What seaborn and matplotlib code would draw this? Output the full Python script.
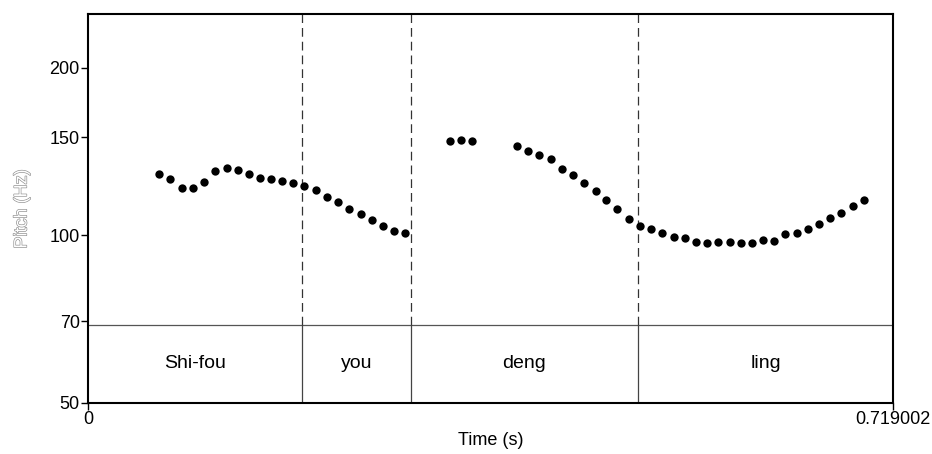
import matplotlib
matplotlib.use("Agg")
import matplotlib.pyplot as plt
import matplotlib.ticker as mticker
import matplotlib.patheffects as pe
import pandas as pd
import seaborn as sns

# Pitch track (time in s, F0 in Hz)
times = [0.0634, 0.0735, 0.0837, 0.0938, 0.1036, 0.1137, 0.1239, 0.1340, 0.1441,
         0.1539, 0.1635, 0.1731, 0.1834, 0.1933, 0.2034, 0.2138, 0.2234, 0.2335,
         0.2437, 0.2538, 0.2633, 0.2734, 0.2835,
         0.3234, 0.3330, 0.3431,
         0.3833, 0.3931, 0.4032, 0.4137, 0.4235, 0.4336, 0.4432, 0.4533, 0.4631,
         0.4729, 0.4829, 0.4928, 0.5028, 0.5129, 0.5230, 0.5331, 0.5432, 0.5528,
         0.5629, 0.5730, 0.5832, 0.5930, 0.6028, 0.6127, 0.6228, 0.6329, 0.6427,
         0.6529, 0.6623, 0.6728, 0.6829, 0.6927]
f0_hz = [129.0, 126.4, 121.8, 121.8, 124.6, 130.4, 132.3, 131.2, 129.0,
         126.7, 126.0, 125.3, 124.3, 122.6, 120.6, 117.1, 114.6, 111.5,
         109.0, 106.5, 103.8, 102.0, 100.8,
         147.9, 148.2, 148.0,
         144.6, 141.6, 139.3, 137.0, 131.5, 128.3, 124.3, 119.9, 115.5,
         111.5, 106.8, 103.9, 102.6, 100.8, 99.3, 98.8, 97.4, 96.9,
         97.3, 97.4, 96.7, 96.7, 97.9, 97.8, 100.5, 100.9, 102.5,
         104.8, 107.6, 109.6, 112.9, 115.5]

# Word tier
words = ["Shi-fou", "you", "deng", "ling"]
boundaries = [0.1909, 0.2883, 0.4914]
t_start, t_end = 0.0, 0.719002

f_min, f_max = 50, 250
tier_top = 69.1
y_ticks = [50, 70, 100, 150, 200]

sns.set_theme(style="ticks")
plt.rcParams["font.family"] = ["Liberation Sans", "DejaVu Sans"]

fig = plt.figure(figsize=(9.32, 4.54), dpi=100)
ax = fig.add_axes([88 / 932, 1 - 402.7 / 454, 805 / 932, 388.7 / 454])

df = pd.DataFrame({"time": times, "f0": f0_hz})
sns.scatterplot(data=df, x="time", y="f0", ax=ax, color="black",
                s=36, linewidth=0, legend=False, zorder=3)

ax.set_yscale("log")
ax.set_ylim(f_min, f_max)
ax.set_xlim(t_start, t_end)

# Tier separator and interval boundaries
ax.axhline(tier_top, color="#555555", lw=0.9, zorder=1)
ax.vlines(boundaries, f_min, tier_top, color="#444444", lw=0.9, zorder=1)
ax.vlines(boundaries, tier_top, f_max, color="#333333", lw=0.9,
          linestyles=(0, (7, 4)), zorder=1)

edges = [t_start] + boundaries + [t_end]
label_y = (f_min * tier_top) ** 0.5
for w, a, b in zip(words, edges[:-1], edges[1:]):
    ax.text((a + b) / 2, label_y, w, ha="center", va="center", fontsize=14,
            color="black")

ax.yaxis.set_major_locator(mticker.FixedLocator(y_ticks))
ax.yaxis.set_major_formatter(mticker.FixedFormatter([str(v) for v in y_ticks]))
ax.yaxis.set_minor_locator(mticker.NullLocator())
ax.set_xticks([t_start, t_end])
ax.set_xticklabels(["0", "0.719002"])

ax.tick_params(axis="both", which="major", direction="out", length=5,
               width=1, color="black", labelsize=13, labelcolor="black", pad=1)

for sp in ax.spines.values():
    sp.set_visible(True)
    sp.set_linewidth(1.5)
    sp.set_color("black")

ax.set_xlabel("Time (s)", fontsize=13, color="black", labelpad=3)
ax.set_ylabel("")

# Outlined vertical axis title
ylab = fig.text(22 / 932, 1 - 209 / 454, "Pitch (Hz)", rotation=90,
                ha="center", va="center", fontsize=13, color="white")
ylab.set_path_effects([pe.Stroke(linewidth=0.9, foreground="#8a8a8a"), pe.Normal()])

fig.savefig("out.png", dpi=100, facecolor="white")
